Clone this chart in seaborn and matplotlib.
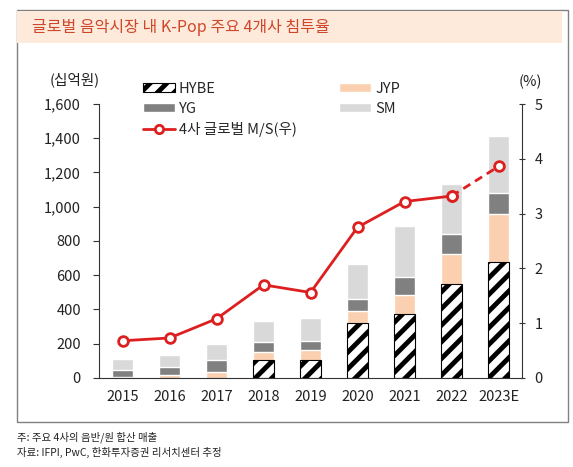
import seaborn as sns
import matplotlib.pyplot as plt
import pandas as pd
from matplotlib.patches import Rectangle, Patch
from matplotlib.lines import Line2D

years = ["2015", "2016", "2017", "2018", "2019", "2020", "2021", "2022", "2023E"]
hybe = [0, 0, 0, 105, 105, 321, 374, 549, 677]
jyp = [4, 20, 35, 47, 59, 70, 111, 175, 281]
yg = [43, 42, 70, 58, 52, 70, 105, 117, 123]
sm = [64, 72, 94, 123, 134, 205, 298, 292, 332]
share = [0.68, 0.73, 1.08, 1.70, 1.56, 2.75, 3.22, 3.32, 3.86]

sns.set_theme(style="white")
plt.rcParams["font.family"] = ["Noto Sans CJK KR", "DejaVu Sans"]
plt.rcParams["hatch.linewidth"] = 3.5
plt.rcParams["hatch.color"] = "black"

data = pd.DataFrame({"year": years, "hybe": hybe, "jyp": jyp, "yg": yg, "sm": sm, "share": share})
data["c_jyp"] = data["hybe"] + data["jyp"]
data["c_yg"] = data["c_jyp"] + data["yg"]
data["c_sm"] = data["c_yg"] + data["sm"]

fig = plt.figure(figsize=(5.73, 4.67), dpi=100)

# frame and title band
fig.patches.append(Rectangle((0.0297, 0.0964), 0.9616, 0.882, transform=fig.transFigure,
                             fill=False, edgecolor="#808080", lw=1.0))
fig.patches.append(Rectangle((0.0305, 0.908), 0.950, 0.069, transform=fig.transFigure,
                             facecolor="#FDEADA", edgecolor="none"))
fig.text(0.056, 0.942, "글로벌 음악시장 내 K-Pop 주요 4개사 침투율", fontsize=11.5,
         color="#D0462A", va="center", ha="left")

ax = fig.add_axes([0.1728, 0.1906, 0.7382, 0.5867])
w = 0.45
sns.barplot(x="year", y="c_sm", data=data, color="#D9D9D9", width=w, saturation=1, ax=ax)
sns.barplot(x="year", y="c_yg", data=data, color="#808080", width=w, saturation=1, ax=ax)
sns.barplot(x="year", y="c_jyp", data=data, color="#FAD0B0", width=w, saturation=1, ax=ax)
sns.barplot(x="year", y="hybe", data=data, color="white", width=w, saturation=1,
            hatch="//", edgecolor="black", linewidth=0.8, ax=ax)

ax.set_ylim(0, 1600)
ax.set_xlim(-0.5, 8.5)
ax.set_yticks(range(0, 1601, 200))
ax.set_yticklabels([f"{v:,}" for v in range(0, 1601, 200)])
ax.set_xlabel("")
ax.set_ylabel("")
ax.set_xticks(range(9))
ax.set_xticklabels(years)
ax.set_xticks([i - 0.5 for i in range(10)], minor=True)
ax.tick_params(axis="x", which="major", length=0, pad=9, labelsize=10.5, colors="#222222")
ax.tick_params(axis="x", which="minor", length=5, width=0.8, direction="out", color="#333333")
ax.tick_params(axis="y", length=4, width=0.8, direction="out", pad=9, labelsize=10.5,
               colors="#333333", labelcolor="#222222", left=True)
for s in ["left", "bottom"]:
    ax.spines[s].set_color("#333333")
    ax.spines[s].set_linewidth(0.8)
ax.spines["top"].set_visible(False)
ax.spines["right"].set_visible(False)

ax2 = ax.twinx()
red = "#DD1F1F"
xs = list(range(9))
sns.lineplot(x=xs[:8], y=share[:8], ax=ax2, color=red, lw=2, marker="o", markersize=7,
             markerfacecolor="white", markeredgecolor=red, markeredgewidth=2)
ax2.plot(xs[7:], share[7:], color=red, lw=2, ls=(0, (3, 2)))
ax2.plot(xs[7:], share[7:], ls="none", marker="o", markersize=7,
         markerfacecolor="white", markeredgecolor=red, markeredgewidth=2, zorder=5)
ax2.set_ylim(0, 5)
ax2.set_yticks(range(6))
ax2.tick_params(axis="y", length=4, width=0.8, direction="inout", pad=7, labelsize=10.5,
                colors="#333333", labelcolor="#222222", right=True)
for s in ["left", "bottom", "top"]:
    ax2.spines[s].set_visible(False)
ax2.spines["right"].set_color("#333333")
ax2.spines["right"].set_linewidth(0.8)
ax2.set_xlim(-0.5, 8.5)

fig.text(0.131, 0.829, "(십억원)", fontsize=10.5, ha="center", va="center", color="#222222")
fig.text(0.925, 0.824, "(%)", fontsize=10.5, ha="center", va="center", color="#222222")

handles = [
    Patch(facecolor="white", edgecolor="black", hatch="//", lw=0.8),
    Patch(facecolor="#808080"),
    Line2D([0], [0], color=red, lw=2, marker="o", markersize=6, markerfacecolor="white",
           markeredgecolor=red, markeredgewidth=2),
    Patch(facecolor="#FAD0B0"),
    Patch(facecolor="#D9D9D9"),
]
labels = ["HYBE", "YG", "4사 글로벌 M/S(우)", "JYP", "SM"]
fig.legend(handles, labels, ncol=2, loc="upper left", bbox_to_anchor=(0.236, 0.841),
           frameon=False, fontsize=10.5, handlelength=2.2, handleheight=0.55,
           labelspacing=0.42, columnspacing=2.9, handletextpad=0.3, borderpad=0)

fig.text(0.03, 0.064, "주: 주요 4사의 음반/원 합산 매출", fontsize=7.5, ha="left", va="center", color="#222222")
fig.text(0.03, 0.032, "자료: IFPI, PwC, 한화투자증권 리서치센터 추정", fontsize=7.5, ha="left",
         va="center", color="#222222")

fig.savefig("out.png", dpi=100)
